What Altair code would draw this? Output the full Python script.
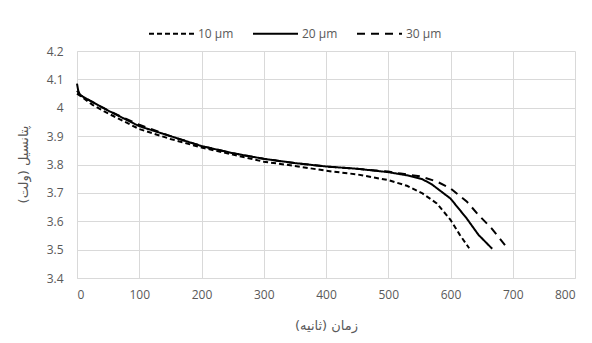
import altair as alt
import pandas as pd

series_names = ["10 µm", "20 µm", "30 µm"]

t10 = [0, 10, 25, 50, 100, 150, 200, 250, 300, 350, 400, 450, 500, 530, 555, 578, 600, 615, 630]
v10 = [4.05, 4.035, 4.01, 3.98, 3.925, 3.89, 3.86, 3.835, 3.81, 3.795, 3.778, 3.765, 3.745, 3.725, 3.698, 3.663, 3.605, 3.552, 3.505]

t20 = [0, 2, 5, 25, 50, 100, 150, 200, 250, 300, 350, 400, 450, 500, 530, 555, 570, 585, 600, 626, 645, 667]
v20 = [4.085, 4.06, 4.045, 4.02, 3.99, 3.935, 3.9, 3.865, 3.84, 3.82, 3.805, 3.793, 3.785, 3.773, 3.762, 3.748, 3.73, 3.705, 3.68, 3.61, 3.552, 3.503]

t30 = [0, 5, 25, 50, 100, 150, 200, 250, 300, 350, 400, 450, 500, 520, 552, 578, 600, 626, 645, 666, 688]
v30 = [4.06, 4.045, 4.02, 3.99, 3.94, 3.9, 3.865, 3.84, 3.82, 3.805, 3.793, 3.785, 3.775, 3.768, 3.758, 3.74, 3.716, 3.67, 3.622, 3.575, 3.515]

rows = []
for name, ts, vs in zip(series_names, [t10, t20, t30], [v10, v20, v30]):
    for i, (t, v) in enumerate(zip(ts, vs)):
        rows.append({"series": name, "t": t, "v": v, "order": i})
df = pd.DataFrame(rows)

grid_col = "#d9d9d9"
text_col = "#595959"

chart = alt.Chart(df).mark_line(color="black", strokeWidth=2).encode(
    x=alt.X("t:Q", scale=alt.Scale(domain=[0, 800], nice=False),
            axis=alt.Axis(title="زمان (ثانیه)", values=list(range(0, 801, 100)),
                          ticks=False, labelPadding=11, titleY=47, titleBaseline="middle",
                          titleFontWeight="normal")),
    y=alt.Y("v:Q", scale=alt.Scale(domain=[3.4, 4.2], nice=False, zero=False),
            axis=alt.Axis(title="پتانسیل (ولت)", values=[3.4, 3.5, 3.6, 3.7, 3.8, 3.9, 4.0, 4.1, 4.2],
                          format=".1~f", ticks=False, labelPadding=14,
                          titleX=-54, titleY=113, titleAngle=270, titleBaseline="middle",
                          titleFontWeight="normal")),
    strokeDash=alt.StrokeDash("series:N",
                              scale=alt.Scale(domain=series_names, range=[[5, 3], [1, 0], [8, 6]]),
                              legend=alt.Legend(title=None, orient="none", direction="horizontal",
                                                legendX=71, legendY=-41, symbolType="stroke",
                                                symbolSize=2025, symbolStrokeWidth=2,
                                                symbolStrokeColor="black", columnPadding=15,
                                                labelOffset=3, labelFontSize=12, labelColor=text_col,
                                                labelFont="Open Sans")),
    order="order:Q",
).properties(
    width=498, height=227,
    autosize=alt.AutoSizeParams(type="none"),
    padding={"left": 69, "top": 43, "right": 9, "bottom": 57},
).configure_axis(
    gridColor=grid_col, domainColor=grid_col, labelColor=text_col, titleColor=text_col,
    labelFontSize=12, titleFontSize=13, labelFont="Open Sans", titleFont="DejaVu Sans",
).configure_view(stroke=None)

chart.save("out.html", embed_options={"renderer": "svg", "actions": False})
